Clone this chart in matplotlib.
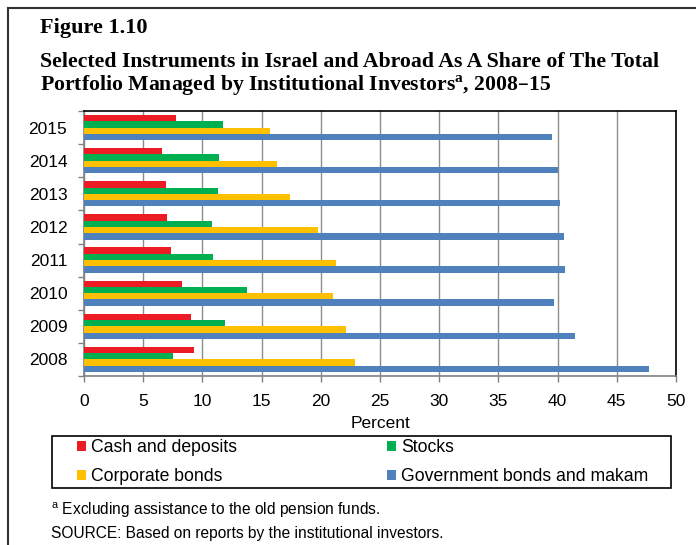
import numpy as np
import matplotlib
matplotlib.use("Agg")
import matplotlib.pyplot as plt
from matplotlib.patches import Rectangle
from matplotlib.lines import Line2D
from matplotlib.ticker import MultipleLocator

years = ["2008", "2009", "2010", "2011", "2012", "2013", "2014", "2015"]
cash = [9.25, 9.0, 8.25, 7.35, 7.0, 6.9, 6.6, 7.8]
stocks = [7.55, 11.95, 13.75, 10.9, 10.85, 11.35, 11.4, 11.75]
corporate = [22.9, 22.1, 21.05, 21.3, 19.8, 17.4, 16.3, 15.7]
government = [47.75, 41.45, 39.7, 40.6, 40.55, 40.2, 40.0, 39.5]

series = [
    ("Cash and deposits", cash, "#ED1C24"),
    ("Stocks", stocks, "#00B050"),
    ("Corporate bonds", corporate, "#FFC000"),
    ("Government bonds and makam", government, "#4F81BD"),
]

plt.rcParams["font.family"] = ["Liberation Sans", "DejaVu Sans"]

W, H = 696, 545
fig = plt.figure(figsize=(W / 100, H / 100), dpi=100)
ax = fig.add_axes([84 / W, 1 - 376 / H, (676 - 84) / W, (376 - 111) / H])

y = np.arange(len(years))
h = 0.19
offsets = [1.5 * h, 0.5 * h, -0.5 * h, -1.5 * h]
handles = []
for (name, vals, color), off in zip(series, offsets):
    b = ax.barh(y + off, vals, height=h, color=color, label=name, zorder=3)
    handles.append(b)

ax.set_xlim(0, 50)
ax.set_ylim(-0.5, len(years) - 0.5)
ax.xaxis.set_major_locator(MultipleLocator(5))
ax.set_yticks(y)
ax.set_yticklabels(years)
ax.set_yticks(np.arange(-0.5, len(years), 1), minor=True)
ax.tick_params(axis="y", which="major", length=0, pad=12, labelsize=12.5)
ax.tick_params(axis="y", which="minor", length=4, color="#808080", width=1)
ax.tick_params(axis="x", length=4, color="#808080", width=1, labelsize=12.5, pad=9)
ax.grid(axis="x", color="#8c8c8c", linewidth=1, zorder=0)
ax.set_xlabel("Percent", fontsize=12.5, labelpad=5)

for side in ("left", "bottom"):
    ax.spines[side].set_color("#808080")
    ax.spines[side].set_linewidth(1.2)
for side in ("top", "right"):
    ax.spines[side].set_color("black")
    ax.spines[side].set_linewidth(1.2)

# legend: two rows, two columns, drawn inside a separate box
order = [0, 2, 1, 3]
leg = fig.legend([handles[i] for i in order], [series[i][0] for i in order],
                 ncol=2, loc="center left",
                 bbox_to_anchor=(77 / W, 1 - 462 / H),
                 fontsize=12.7, handlelength=0.5, handleheight=0.5,
                 handletextpad=0.3, borderpad=0, borderaxespad=0,
                 labelspacing=0.68, columnspacing=8.5, frameon=False)
fig.patches.append(Rectangle((52 / W, 1 - 488 / H), 619 / W, 52 / H,
                             transform=fig.transFigure, fill=False,
                             edgecolor="black", linewidth=1.2))

# outer border: top and left edges only
fig.lines.append(Line2D([8 / W, 1.0], [1 - 8 / H, 1 - 8 / H],
                        transform=fig.transFigure, color="#333333", linewidth=1.5))
fig.lines.append(Line2D([8 / W, 8 / W], [0, 1 - 8 / H],
                        transform=fig.transFigure, color="#333333", linewidth=1.5))

serif = ["Liberation Serif", "DejaVu Serif"]
fig.text(40 / W, 1 - 33 / H, "Figure 1.10", family=serif, weight="bold",
         fontsize=16, va="baseline", ha="left")
fig.text(40 / W, 1 - 67 / H,
         "Selected Instruments in Israel and Abroad As A Share of The Total",
         family=serif, weight="bold", fontsize=15.7, va="baseline", ha="left")
fig.text(40 / W, 1 - 91 / H,
         "Portfolio Managed by Institutional Investors$^{\\mathregular{a}}$, 2008\u201315",
         family=serif, weight="bold", fontsize=15.7, va="baseline", ha="left")

fig.text(51 / W, 1 - 515 / H, "$^{\\mathregular{a}}$ Excluding assistance to the old pension funds.",
         fontsize=11.2, va="baseline", ha="left")
fig.text(51 / W, 1 - 538 / H, "SOURCE: Based on reports by the institutional investors.",
         fontsize=11.2, va="baseline", ha="left")

fig.savefig("out.png", dpi=100)
